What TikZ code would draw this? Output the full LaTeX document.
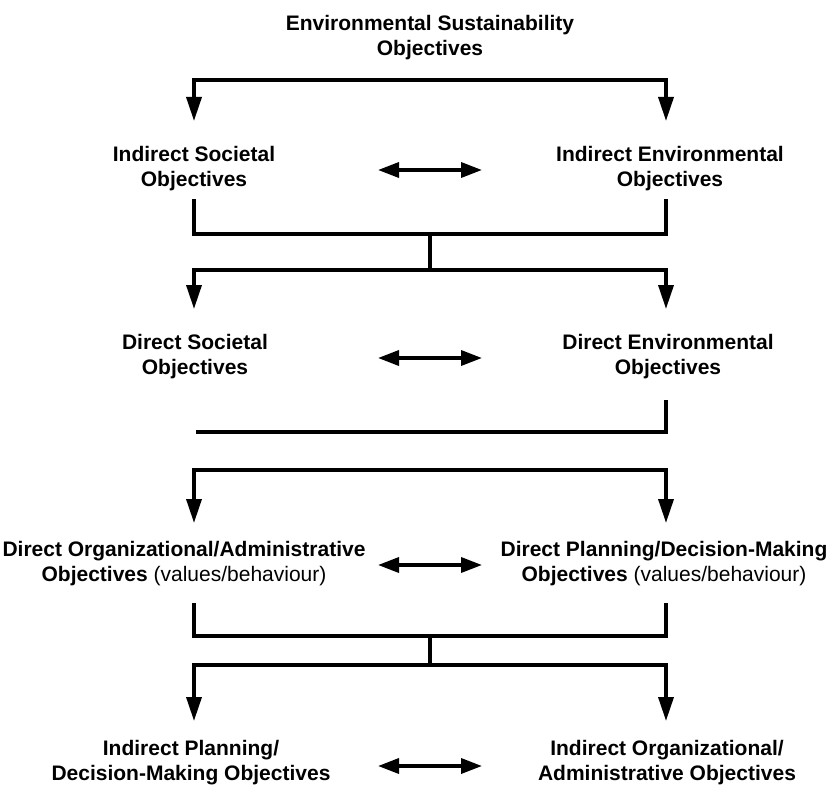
\documentclass[tikz,border=0pt]{standalone}
\usepackage{fontspec}
\setmainfont{Liberation Sans}
\usetikzlibrary{arrows.meta}
\begin{document}
\begin{tikzpicture}[x=1pt,y=-1pt,
        lbl/.style = {font=\bfseries\fontsize{21}{25}\selectfont, align=center, inner sep=0pt},
        bar/.style = {line width=3.5pt, line join=miter},
        arrow/.style = {bar,-{Triangle[width=15pt,length=24pt]}},
        twoway/.style = {line width=3.5pt,{Triangle[width=15pt,length=21pt]}-{Triangle[width=15pt,length=21pt]}}]
    \useasboundingbox (0,0) rectangle (837,789);

    % objectives
    \node[lbl] (esus) at (430,38)  {Environmental Sustainability\\Objectives};
    \node[lbl] (isoc) at (194,169) {Indirect Societal\\Objectives};
    \node[lbl] (ienv) at (670,169) {Indirect Environmental\\Objectives};
    \node[lbl] (dsoc) at (195,357) {Direct Societal\\Objectives};
    \node[lbl] (denv) at (668,357) {Direct Environmental\\Objectives};
    \node[lbl] (dorg) at (184,564) {Direct Organizational/Administrative\\Objectives \mdseries(values/behaviour)};
    \node[lbl] (dpla) at (664,564) {Direct Planning/Decision-Making\\Objectives \mdseries(values/behaviour)};
    \node[lbl] (ipla) at (191,763) {Indirect Planning/\\Decision-Making Objectives};
    \node[lbl] (iorg) at (667,763) {Indirect Organizational/\\Administrative Objectives};

    % junctions and arrow ends
    \coordinate (j1) at (430,80);
    \coordinate (t1l) at (194,121);
    \coordinate (t1r) at (666,121);
    \coordinate (s2l) at (194,199);
    \coordinate (s2r) at (666,199);
    \coordinate (j2) at (430,234);
    \coordinate (j3) at (430,270);
    \coordinate (t3l) at (194,309);
    \coordinate (t3r) at (666,309);
    \coordinate (s4r) at (666,400);
    \coordinate (e4l) at (196,432);
    \coordinate (j5) at (430,470);
    \coordinate (t5l) at (194,523);
    \coordinate (t5r) at (666,523);
    \coordinate (s6l) at (194,603);
    \coordinate (s6r) at (666,603);
    \coordinate (j6) at (430,636);
    \coordinate (j7) at (430,665);
    \coordinate (t7l) at (194,721);
    \coordinate (t7r) at (666,721);

    % branches
    \draw[arrow] (j1) -| (t1l);
    \draw[arrow] (j1) -| (t1r);
    \draw[bar] (s2l) |- (j2) -| (s2r);
    \draw[bar] (j2) -- (j3);
    \draw[arrow] (j3) -| (t3l);
    \draw[arrow] (j3) -| (t3r);
    \draw[bar] (s4r) |- (e4l);
    \draw[arrow] (j5) -| (t5l);
    \draw[arrow] (j5) -| (t5r);
    \draw[bar] (s6l) |- (j6) -| (s6r);
    \draw[bar] (j6) -- (j7);
    \draw[arrow] (j7) -| (t7l);
    \draw[arrow] (j7) -| (t7r);

    % two-way links
    \coordinate (w1l) at (378,170);
    \coordinate (w1r) at (482,170);
    \coordinate (w2l) at (378,358);
    \coordinate (w2r) at (482,358);
    \coordinate (w3l) at (378,565);
    \coordinate (w3r) at (482,565);
    \coordinate (w4l) at (378,766);
    \coordinate (w4r) at (482,766);
    \draw[twoway] (w1l) -- (w1r);
    \draw[twoway] (w2l) -- (w2r);
    \draw[twoway] (w3l) -- (w3r);
    \draw[twoway] (w4l) -- (w4r);
\end{tikzpicture}
\end{document}
